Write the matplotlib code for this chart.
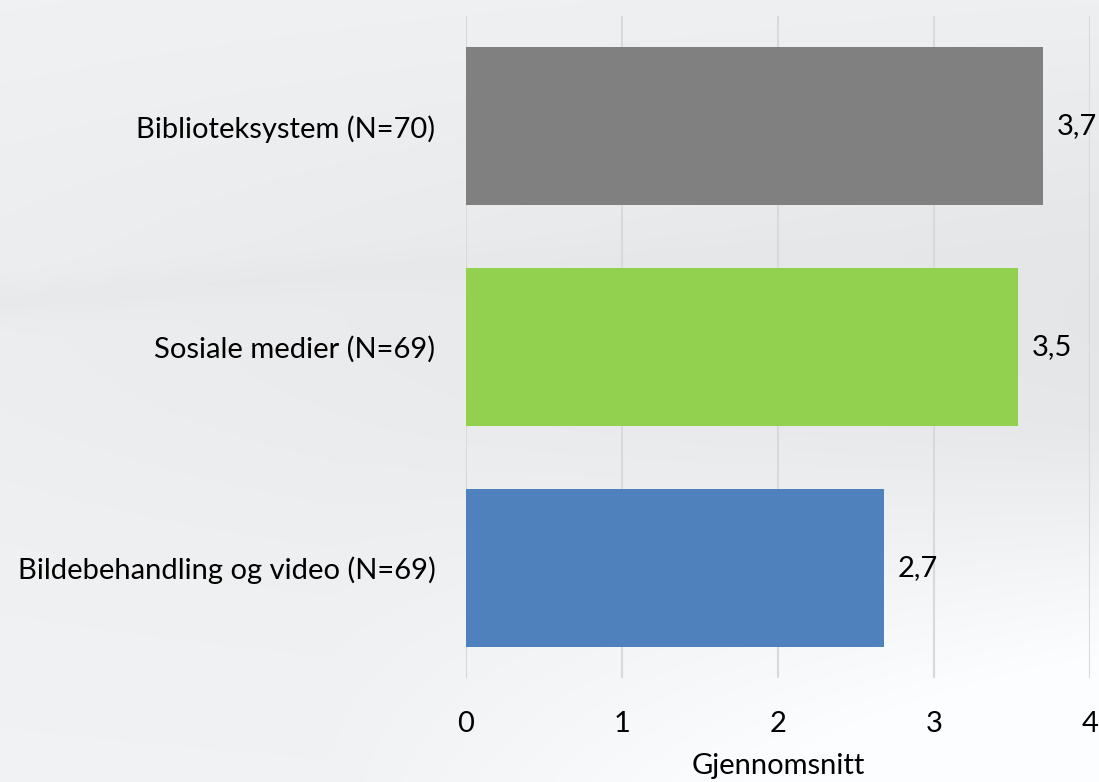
import numpy as np
import matplotlib
matplotlib.use("Agg")
import matplotlib.pyplot as plt

plt.rcParams["font.family"] = ["Lato", "DejaVu Sans"]

CATEGORIES = ["Biblioteksystem (N=70)", "Sosiale medier (N=69)", "Bildebehandling og video (N=69)"]
MEANS = [3.70, 3.54, 2.68]
COLORS = ["#808080", "#92d050", "#4f81bd"]
XTICKS = [0, 1, 2, 3, 4]
XLABEL = "Gjennomsnitt"

FS = 21

fig = plt.figure(figsize=(10.99, 7.82), dpi=100)

# soft grey-to-white backdrop
bg = fig.add_axes([0, 0, 1, 1], zorder=-10)
h, w = 200, 280
yy, xx = np.mgrid[0:1:h * 1j, 0:1:w * 1j]
shade = 0.955 - 0.05 * np.exp(-((yy - 0.40) / 0.35) ** 2) * (0.4 + 0.6 * xx)
shade += 0.08 * np.clip((yy - 0.55) / 0.45, 0, 1) * np.clip((xx - 0.3) / 0.7, 0, 1)
# faint swoosh band
band = 0.38 - 0.1 * xx + 0.08 * (xx - 0.3) ** 2
shade -= 0.015 * np.exp(-((yy - band) / 0.025) ** 2) * (1 - xx)
shade = np.clip(shade, 0, 1)
rgb = np.dstack([shade - 0.008, shade - 0.004, shade + 0.002])
bg.imshow(np.clip(rgb, 0, 1), aspect="auto", extent=[0, 1, 0, 1], interpolation="bicubic")
bg.set_axis_off()

ax = fig.add_axes([0.424, 0.133, 0.5678, 0.8465])
ax.patch.set_alpha(0)

ypos = np.arange(len(CATEGORIES))
ax.barh(ypos, MEANS, height=0.717, color=COLORS, zorder=3)
for y, v in zip(ypos, MEANS):
    ax.annotate(f"{v:.1f}".replace(".", ","), (v, y), xytext=(10, 0),
                textcoords="offset points", va="center", ha="left", fontsize=FS)

ax.set_xlim(0, 4)
ax.set_ylim(len(CATEGORIES) - 0.5, -0.5)
ax.set_xticks(XTICKS)
ax.set_xticklabels([str(t) for t in XTICKS], fontsize=FS)
ax.set_yticks(ypos)
ax.set_yticklabels(CATEGORIES, fontsize=FS)
ax.tick_params(axis="both", length=0)
ax.tick_params(axis="x", pad=24)
ax.tick_params(axis="y", pad=22)
ax.xaxis.grid(True, color="#d9d9d9", linewidth=1.5, zorder=0)
ax.set_axisbelow(True)
for s in ax.spines.values():
    s.set_visible(False)
ax.set_xlabel(XLABEL, fontsize=FS, labelpad=11)

fig.savefig("out.png", dpi=100)
